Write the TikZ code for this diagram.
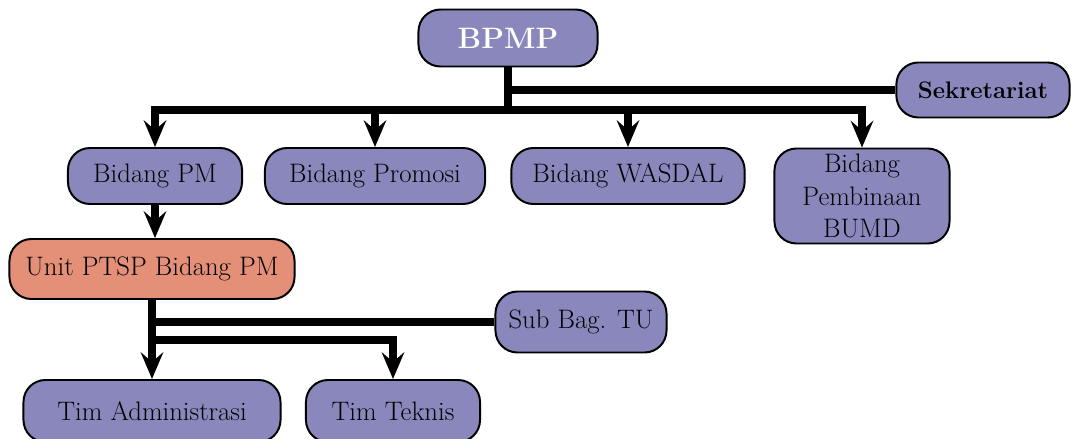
\documentclass[tikz,border=0pt]{standalone}
\usepackage{fontspec}
\usetikzlibrary{
    arrows.meta, % for the stealth arrow tips
    positioning  % for placing nodes relative to other nodes
}
\definecolor{boxblue}{RGB}{137,135,187}
\definecolor{boxsalmon}{RGB}{228,144,120}

\begin{document}
\begin{tikzpicture}[
        x=0.025cm,y=-0.025cm,
        >={Stealth[length=19pt,width=16pt,inset=7pt]},
        every node/.style  = {font=\fontsize{19}{23}\selectfont},
        unit/.style        = {draw=black,line width=1.4pt,rounded corners=0.55cm,
                              fill=boxblue,minimum height=1.4cm,align=center},
        ptsp unit/.style   = {unit,fill=boxsalmon},
        head label/.style  = {font=\fontsize{21}{25}\selectfont\bfseries,text=white},
        conn/.style        = {line width=5pt}
    ]

    \useasboundingbox (0,0) rectangle (1074,439);

    % top level
    \node [unit,minimum width=4.475cm,minimum height=1.425cm,head label] (bpmp) at (508,38) {BPMP};
    \node [unit,minimum width=4.33cm,minimum height=1.375cm,font=\fontsize{17}{21}\selectfont\bfseries] (sek) at (983,90) {Sekretariat};

    % bidang
    \node [unit,minimum width=4.35cm]  (bpm)  at (155,176) {Bidang PM};
    \node [unit,minimum width=5.5cm]   (bpro) at (375,176) {Bidang Promosi};
    \node [unit,minimum width=5.83cm]  (bwas) at (628,176) {Bidang WASDAL};
    \node [unit,minimum width=4.375cm,minimum height=2.375cm,
           font=\fontsize{19}{23}\selectfont] (bbumd) at (862,196) {Bidang\\Pembinaan\\BUMD};

    % unit PTSP
    \node [ptsp unit,minimum width=7.125cm,minimum height=1.5cm] (ptsp) at (152,269) {Unit PTSP Bidang PM};
    \node [unit,minimum width=4.275cm,minimum height=1.525cm] (subtu) at (581,322) {Sub Bag. TU};
    \node [unit,minimum width=6.425cm,minimum height=1.55cm] (tadm) at (152,411) {Tim Administrasi};
    \node [unit,minimum width=4.35cm,minimum height=1.55cm]  (ttek) at (393,411) {Tim Teknis};

    \coordinate (bus)  at (510,110);
    \coordinate (tbus) at (152,340);

    \draw [conn] (bpmp.south) -- (bpmp.south |- bus);
    \draw [conn] (bpmp.south) |- (sek.west);
    \draw [conn,->] (bpmp.south |- bus) -| (bpm.north);
    \draw [conn,->] (bpmp.south |- bus) -| (bpro.north);
    \draw [conn,->] (bpmp.south |- bus) -| (bwas.north);
    \draw [conn,->] (bpmp.south |- bus) -| (bbumd.north);

    \draw [conn,->] (bpm.south) -- (bpm.south |- ptsp.north);
    \draw [conn,->] (ptsp.south) -- (tadm.north);
    \draw [conn] (ptsp.south) |- (subtu.west);
    \draw [conn,->] (tbus) -| (ttek.north);

\end{tikzpicture}
\end{document}
